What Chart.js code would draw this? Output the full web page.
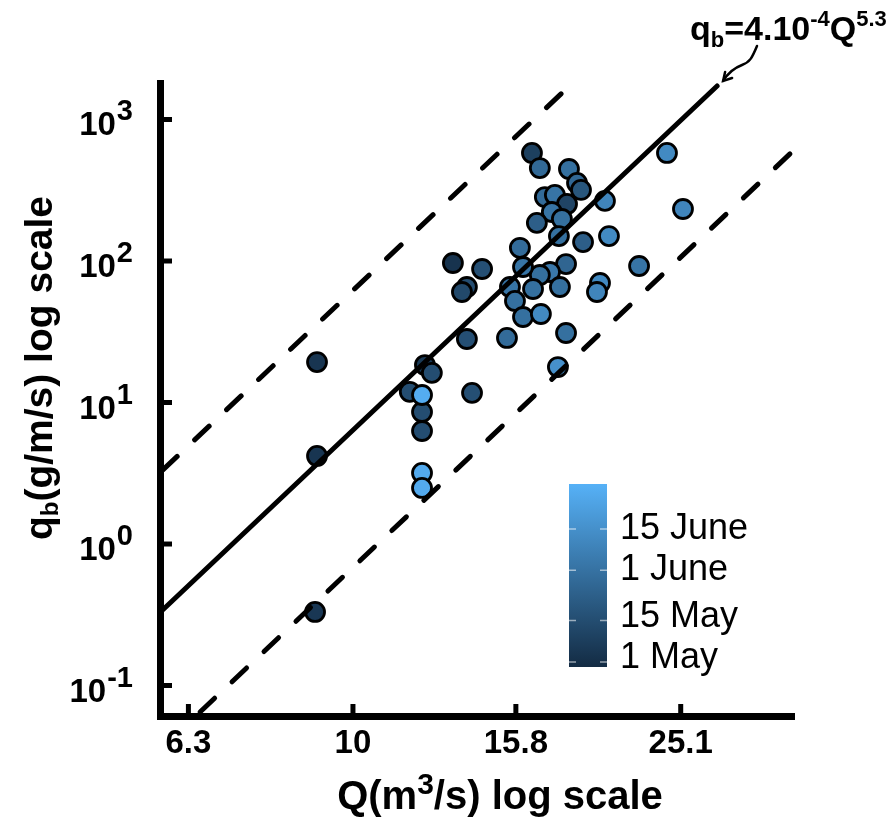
<!DOCTYPE html>
<html>
<head>
<meta charset="utf-8">
<script src="https://cdn.jsdelivr.net/npm/chart.js@4.4.1/dist/chart.umd.min.js"></script>
<style>
  html, body { margin: 0; padding: 0; background: #fff; }
  #wrap { width: 891px; height: 817px; }
</style>
</head>
<body>
<div id="wrap"><canvas id="qbChart" width="891" height="817"></canvas></div>
<script>
// samples: discharge Q (m3/s), bedload qb (g/m/s), day of sampling counted from 1 May
const dischargeQ = [13.24, 14.37, 13.77, 13.58, 9.04, 12.24, 12.48, 13.77, 11.73, 12.14,
  12.14, 12.14, 13.97, 9.04, 12.14, 12.14, 8.99, 16.53, 16.90, 18.34,
  18.76, 18.97, 17.14, 17.63, 18.24, 17.48, 17.98, 16.76, 17.83, 20.29,
  24.15, 25.26, 19.08, 20.52, 15.98, 18.19, 17.39, 16.90, 16.12, 15.54,
  15.76, 16.58, 17.88, 20.01, 19.84, 22.33, 16.12, 16.95, 15.41, 18.19, 17.78];
const bedloadQb = [96.8, 87.8, 65.5, 60.4, 19.3, 18.4, 16.2, 28.1, 11.9, 8.57,
  6.29, 11.3, 11.7, 4.19, 3.18, 2.49, 0.331, 580, 454, 447,
  356, 318, 283, 293, 253, 222, 198, 186, 150, 266,
  580, 233, 136, 150, 124, 95.2, 83.6, 79.6, 90.7, 65.5,
  52.2, 63.4, 65.5, 69.9, 60.4, 92.2, 40.2, 42.2, 28.6, 31.0, 17.8];
const sampleDay = [2, 15, 14, 12, 3, 5, 14, 15, 14, 14,
  14, 58, 15, 3, 57, 57, 4, 8, 27, 30,
  26, 18, 28, 32, 10, 32, 30, 22, 30, 40,
  42, 40, 22, 42, 28, 25, 34, 30, 32, 32,
  30, 30, 30, 42, 40, 32, 30, 42, 28, 30, 45];

// fitted relation and the two envelope lines (end points)
const fitQ = [5.86, 27.8];
const fitQb = [0.342, 1726];
const upperQ = [5.86, 18.14];
const upperQb = [3.33, 1615];
const lowerQ = [6.51, 34.3];
const lowerQb = [0.065, 589];

const xTickValues = [6.3, 10, 15.8, 25.1];
const xTickLabels = ['6.3', '10', '15.8', '25.1'];
const yTickValues = [0.1, 1, 10, 100, 1000];
const yTickExponents = ['-1', '0', '1', '2', '3'];

const colorbarDays = [0, 14, 31, 45];
const colorbarLabels = ['1 May', '15 May', '1 June', '15 June'];
const dayMin = -1.7, dayMax = 60.2;

const FONT = '"Liberation Sans", Arial, sans-serif';
const darkRGB = [19, 43, 67];
const lightRGB = [86, 177, 247];

function dayColor(d) {
  const t = Math.max(0, Math.min(1, (d - dayMin) / (dayMax - dayMin)));
  const c = darkRGB.map((v, i) => Math.round(v + (lightRGB[i] - v) * t));
  return `rgb(${c[0]},${c[1]},${c[2]})`;
}

const toXY = (xs, ys) => xs.map((v, i) => ({ x: v, y: ys[i] }));

// writes pieces of text one after another, each with its own font and baseline shift
function drawRuns(ctx, runs, x0, y0) {
  let cx = x0;
  runs.forEach(r => {
    ctx.font = r[1];
    ctx.fillText(r[0], cx, y0 + r[2]);
    cx += ctx.measureText(r[0]).width;
  });
}
function runsWidth(ctx, runs) {
  let w = 0;
  runs.forEach(r => { ctx.font = r[1]; w += ctx.measureText(r[0]).width; });
  return w;
}

// draws inward ticks, exponent labels, titles, equation and colour bar
const decorations = {
  id: 'decorations',
  afterDraw(chart) {
    const { ctx, chartArea, scales: { x, y } } = chart;
    ctx.save();
    ctx.fillStyle = '#000';
    ctx.strokeStyle = '#000';

    // inward tick marks
    ctx.lineWidth = 5;
    xTickValues.forEach(v => {
      const px = x.getPixelForValue(v);
      ctx.beginPath();
      ctx.moveTo(px, chartArea.bottom);
      ctx.lineTo(px, chartArea.bottom - 12);
      ctx.stroke();
    });
    yTickValues.forEach(v => {
      const py = y.getPixelForValue(v);
      ctx.beginPath();
      ctx.moveTo(chartArea.left, py);
      ctx.lineTo(chartArea.left + 12, py);
      ctx.stroke();
    });

    // y tick labels 10^n
    ctx.textAlign = 'right';
    ctx.textBaseline = 'alphabetic';
    yTickValues.forEach((v, i) => {
      const py = y.getPixelForValue(v);
      ctx.font = `bold 29px ${FONT}`;
      const supW = ctx.measureText(yTickExponents[i]).width;
      ctx.fillText(yTickExponents[i], 133, py + 1);
      ctx.font = `bold 33px ${FONT}`;
      ctx.fillText('10', 133 - supW - 1, py + 16);
    });

    ctx.textAlign = 'left';
    // x title: Q(m3/s) log scale
    const big = `bold 40px ${FONT}`;
    const xRuns = [['Q(m', big, 0], ['3', `bold 30px ${FONT}`, -15], ['/s) log scale', big, 0]];
    drawRuns(ctx, xRuns, 500 - runsWidth(ctx, xRuns) / 2, 809);

    // y title: qb(g/m/s) log scale
    ctx.save();
    ctx.translate(52, 368);
    ctx.rotate(-Math.PI / 2);
    const yRuns = [['q', `bold 39px ${FONT}`, 0], ['b', `bold 24px ${FONT}`, 6], ['(g/m/s) log scale', `bold 39px ${FONT}`, 0]];
    drawRuns(ctx, yRuns, -runsWidth(ctx, yRuns) / 2, 0);
    ctx.restore();

    // equation label
    const eq = [['q', `bold 34px ${FONT}`, 0], ['b', `bold 22px ${FONT}`, 7], ['=4.10', `bold 34px ${FONT}`, 0],
      ['-4', `bold 22px ${FONT}`, -14], ['Q', `bold 34px ${FONT}`, 0], ['5.3', `bold 22px ${FONT}`, -14]];
    drawRuns(ctx, eq, 690, 40);

    // arrow pointing at the end of the fitted line
    const tipX = x.getPixelForValue(fitQ[1]) + 6;
    const tipY = y.getPixelForValue(fitQb[1]) - 5;
    ctx.lineWidth = 2.5;
    ctx.lineCap = 'round';
    ctx.beginPath();
    ctx.moveTo(757, 46);
    ctx.bezierCurveTo(752, 58, 750, 62, 742, 65);
    ctx.bezierCurveTo(734, 68, 728, 73, tipX, tipY);
    ctx.stroke();
    ctx.beginPath();
    ctx.moveTo(tipX + 2, tipY - 9);
    ctx.lineTo(tipX, tipY);
    ctx.lineTo(tipX + 9, tipY - 3);
    ctx.stroke();

    // colour bar
    const barL = 569, barR = 607, barT = 484, barB = 667;
    const grad = ctx.createLinearGradient(0, barB, 0, barT);
    grad.addColorStop(0, dayColor(dayMin));
    grad.addColorStop(0.5, dayColor((dayMin + dayMax) / 2));
    grad.addColorStop(1, dayColor(dayMax));
    ctx.fillStyle = grad;
    ctx.fillRect(barL, barT, barR - barL, barB - barT);
    ctx.strokeStyle = 'rgba(255,255,255,0.55)';
    ctx.lineWidth = 1.5;
    ctx.lineCap = 'butt';
    ctx.fillStyle = '#000';
    ctx.font = `36px ${FONT}`;
    ctx.textBaseline = 'middle';
    colorbarDays.forEach((d, i) => {
      const py = barB - (d - dayMin) / (dayMax - dayMin) * (barB - barT);
      ctx.beginPath();
      ctx.moveTo(barL, py); ctx.lineTo(barL + 7, py);
      ctx.moveTo(barR - 7, py); ctx.lineTo(barR, py);
      ctx.stroke();
      ctx.fillText(colorbarLabels[i], 620, py - (i < 2 ? 4 : 0));
    });
    ctx.restore();
  }
};

const lineStyle = { showLine: true, pointRadius: 0, borderColor: '#000', borderWidth: 5, borderCapStyle: 'round', fill: false };

new Chart(document.getElementById('qbChart'), {
  type: 'scatter',
  data: {
    datasets: [
      { ...lineStyle, data: toXY(fitQ, fitQb) },
      { ...lineStyle, data: toXY(upperQ, upperQb), borderDash: [20, 24] },
      { ...lineStyle, data: toXY(lowerQ, lowerQb), borderDash: [20, 24] },
      {
        data: toXY(dischargeQ, bedloadQb),
        pointRadius: 9.5,
        pointBorderWidth: 2.8,
        pointBorderColor: '#000',
        pointBackgroundColor: ctx => dayColor(sampleDay[ctx.dataIndex])
      }
    ]
  },
  options: {
    responsive: false,
    animation: false,
    layout: { padding: { top: 83, right: 97, left: 0, bottom: 0 } },
    plugins: { legend: { display: false }, tooltip: { enabled: false } },
    scales: {
      x: {
        type: 'logarithmic',
        min: 5.817,
        max: 34.5,
        afterBuildTicks: s => { s.ticks = xTickValues.map(v => ({ value: v })); },
        afterFit: s => { s.height = 101; },
        grid: { display: false, drawTicks: false },
        border: { display: true, color: '#000', width: 7 },
        ticks: {
          autoSkip: false,
          maxRotation: 0,
          padding: 8,
          color: '#000',
          font: { family: FONT, size: 33, weight: 'bold' },
          callback: (v) => xTickLabels[xTickValues.indexOf(v)]
        }
      },
      y: {
        type: 'logarithmic',
        min: 0.0609,
        max: 1811,
        afterBuildTicks: s => { s.ticks = yTickValues.map(v => ({ value: v })); },
        afterFit: s => { s.width = 160; },
        grid: { display: false, drawTicks: false },
        border: { display: true, color: '#000', width: 7 },
        ticks: { display: false }
      }
    }
  },
  plugins: [decorations]
});
</script>
</body>
</html>
